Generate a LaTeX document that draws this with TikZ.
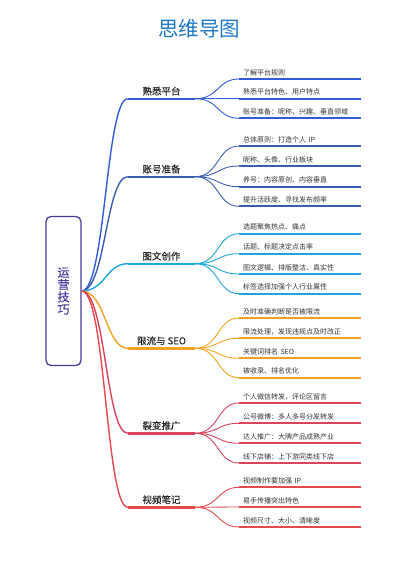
\documentclass[tikz,border=0pt]{standalone}
\usepackage{fontspec}
\setmainfont{Noto Sans CJK SC}
\newfontfamily\grasfont[FakeBold=0.3]{Noto Sans CJK SC}
\definecolor{cplat}{HTML}{2F5CD9}
\definecolor{ccompte}{HTML}{3A5DB4}
\definecolor{ccreat}{HTML}{1BA6DE}
\definecolor{cseo}{HTML}{F2A21F}
\definecolor{cfiss}{HTML}{D9435E}
\definecolor{cvideo}{HTML}{E5484D}
\definecolor{ctitre}{HTML}{1E78C8}
\definecolor{cracine}{HTML}{4A3A9E}
\begin{document}
\begin{tikzpicture}[x=1pt,y=-1pt]
\tikzset{titre/.style={text=ctitre, font=\fontsize{20.5}{22}\selectfont},
racine/.style={draw=cracine, line width=1.3pt, rounded corners=5pt, minimum width=35pt, minimum height=149pt, align=center, text=cracine, font=\grasfont\fontsize{12}{12.3}\selectfont},
branche/.style={anchor=south, minimum width=67pt, inner ysep=3pt, text=black!85, font=\grasfont\fontsize{9.5}{11}\selectfont},
feuille/.style={anchor=south west, text width=114pt, inner xsep=4pt, inner ysep=3pt, align=left, text=black!80, font=\fontsize{7}{8}\selectfont},
tronc/.style={line width=1.4pt},
souligne/.style={line width=2.4pt},
rameau/.style={line width=0.9pt},
trait/.style={line width=1.8pt}}
\useasboundingbox (0,0) rectangle (400,565);
\node[titre] (T) at (199,29) {思维导图};
\node[racine] (R) at (63.5,291) {运\\营\\技\\巧};
% branches
\node[branche] (B1) at (161.5,98.7) {熟悉平台};
\node[branche] (B2) at (161.5,176.7) {账号准备};
\node[branche] (B3) at (161.5,263.7) {图文创作};
\node[branche] (B4) at (161.5,348.3) {限流与 SEO};
\node[branche] (B5) at (161.5,433.3) {裂变推广};
\node[branche] (B6) at (161.5,507.3) {视频笔记};
% feuilles
\node[feuille] (F11) at (239,79) {了解平台规则};
\node[feuille] (F12) at (239,98.7) {熟悉平台特色、用户特点};
\node[feuille] (F13) at (239,118.3) {账号准备：昵称、兴趣、垂直领域};
\node[feuille] (F21) at (239,146) {总体原则：打造个人 IP};
\node[feuille] (F22) at (239,166) {昵称、头像、行业板块};
\node[feuille] (F23) at (239,186.7) {养号：内容原创、内容垂直};
\node[feuille] (F24) at (239,206.3) {提升活跃度、寻找发布频率};
\node[feuille] (F31) at (239,233.7) {选题聚焦热点、痛点};
\node[feuille] (F32) at (239,253.7) {话题、标题决定点击率};
\node[feuille] (F33) at (239,274) {图文逻辑、排版整洁、真实性};
\node[feuille] (F34) at (239,293.7) {标签选择加强个人行业属性};
\node[feuille] (F41) at (239,318) {及时准确判断是否被限流};
\node[feuille] (F42) at (239,338.3) {限流处理，发现违规点及时改正};
\node[feuille] (F43) at (239,358.3) {关键词排名 SEO};
\node[feuille] (F44) at (239,377.7) {被收录、排名优化};
\node[feuille] (F51) at (239,403) {个人微信转发，评论区留言};
\node[feuille] (F52) at (239,423.3) {公号微博：多人多号分发转发};
\node[feuille] (F53) at (239,443.3) {达人推广：大牌产品成熟产业};
\node[feuille] (F54) at (239,463) {线下店铺：上下游同类线下店};
\node[feuille] (F61) at (239,487.3) {视频制作要加强 IP};
\node[feuille] (F62) at (239,507) {易手传播突出特色};
\node[feuille] (F63) at (239,527) {视频尺寸、大小、清晰度};
% racine vers branches
\draw[tronc, cplat] (R.east) .. controls +(24,0) and +(-22,0) .. (B1.south west);
\draw[tronc, ccompte] (R.east) .. controls +(24,0) and +(-22,0) .. (B2.south west);
\draw[tronc, ccreat] (R.east) .. controls +(24,0) and +(-22,0) .. (B3.south west);
\draw[tronc, cseo] (R.east) .. controls +(24,0) and +(-22,0) .. (B4.south west);
\draw[tronc, cfiss] (R.east) .. controls +(24,0) and +(-22,0) .. (B5.south west);
\draw[tronc, cvideo] (R.east) .. controls +(24,0) and +(-22,0) .. (B6.south west);
\draw[souligne, cplat] (B1.south west) -- (B1.south east);
\draw[souligne, ccompte] (B2.south west) -- (B2.south east);
\draw[souligne, ccreat] (B3.south west) -- (B3.south east);
\draw[souligne, cseo] (B4.south west) -- (B4.south east);
\draw[souligne, cfiss] (B5.south west) -- (B5.south east);
\draw[souligne, cvideo] (B6.south west) -- (B6.south east);
% branches vers feuilles
\draw[rameau, cplat] (B1.south east) .. controls +(24,0) and +(-22,0) .. (F11.south west);
\draw[rameau, cplat] (B1.south east) .. controls +(24,0) and +(-22,0) .. (F12.south west);
\draw[rameau, cplat] (B1.south east) .. controls +(24,0) and +(-22,0) .. (F13.south west);
\draw[rameau, ccompte] (B2.south east) .. controls +(24,0) and +(-22,0) .. (F21.south west);
\draw[rameau, ccompte] (B2.south east) .. controls +(24,0) and +(-22,0) .. (F22.south west);
\draw[rameau, ccompte] (B2.south east) .. controls +(24,0) and +(-22,0) .. (F23.south west);
\draw[rameau, ccompte] (B2.south east) .. controls +(24,0) and +(-22,0) .. (F24.south west);
\draw[rameau, ccreat] (B3.south east) .. controls +(24,0) and +(-22,0) .. (F31.south west);
\draw[rameau, ccreat] (B3.south east) .. controls +(24,0) and +(-22,0) .. (F32.south west);
\draw[rameau, ccreat] (B3.south east) .. controls +(24,0) and +(-22,0) .. (F33.south west);
\draw[rameau, ccreat] (B3.south east) .. controls +(24,0) and +(-22,0) .. (F34.south west);
\draw[rameau, cseo] (B4.south east) .. controls +(24,0) and +(-22,0) .. (F41.south west);
\draw[rameau, cseo] (B4.south east) .. controls +(24,0) and +(-22,0) .. (F42.south west);
\draw[rameau, cseo] (B4.south east) .. controls +(24,0) and +(-22,0) .. (F43.south west);
\draw[rameau, cseo] (B4.south east) .. controls +(24,0) and +(-22,0) .. (F44.south west);
\draw[rameau, cfiss] (B5.south east) .. controls +(24,0) and +(-22,0) .. (F51.south west);
\draw[rameau, cfiss] (B5.south east) .. controls +(24,0) and +(-22,0) .. (F52.south west);
\draw[rameau, cfiss] (B5.south east) .. controls +(24,0) and +(-22,0) .. (F53.south west);
\draw[rameau, cfiss] (B5.south east) .. controls +(24,0) and +(-22,0) .. (F54.south west);
\draw[rameau, cvideo] (B6.south east) .. controls +(24,0) and +(-22,0) .. (F61.south west);
\draw[rameau, cvideo] (B6.south east) .. controls +(24,0) and +(-22,0) .. (F62.south west);
\draw[rameau, cvideo] (B6.south east) .. controls +(24,0) and +(-22,0) .. (F63.south west);
% soulignements des feuilles
\draw[trait, cplat] (F11.south west) -- (F11.south east);
\draw[trait, cplat] (F12.south west) -- (F12.south east);
\draw[trait, cplat] (F13.south west) -- (F13.south east);
\draw[trait, ccompte] (F21.south west) -- (F21.south east);
\draw[trait, ccompte] (F22.south west) -- (F22.south east);
\draw[trait, ccompte] (F23.south west) -- (F23.south east);
\draw[trait, ccompte] (F24.south west) -- (F24.south east);
\draw[trait, ccreat] (F31.south west) -- (F31.south east);
\draw[trait, ccreat] (F32.south west) -- (F32.south east);
\draw[trait, ccreat] (F33.south west) -- (F33.south east);
\draw[trait, ccreat] (F34.south west) -- (F34.south east);
\draw[trait, cseo] (F41.south west) -- (F41.south east);
\draw[trait, cseo] (F42.south west) -- (F42.south east);
\draw[trait, cseo] (F43.south west) -- (F43.south east);
\draw[trait, cseo] (F44.south west) -- (F44.south east);
\draw[trait, cfiss] (F51.south west) -- (F51.south east);
\draw[trait, cfiss] (F52.south west) -- (F52.south east);
\draw[trait, cfiss] (F53.south west) -- (F53.south east);
\draw[trait, cfiss] (F54.south west) -- (F54.south east);
\draw[trait, cvideo] (F61.south west) -- (F61.south east);
\draw[trait, cvideo] (F62.south west) -- (F62.south east);
\draw[trait, cvideo] (F63.south west) -- (F63.south east);
\end{tikzpicture}
\end{document}
